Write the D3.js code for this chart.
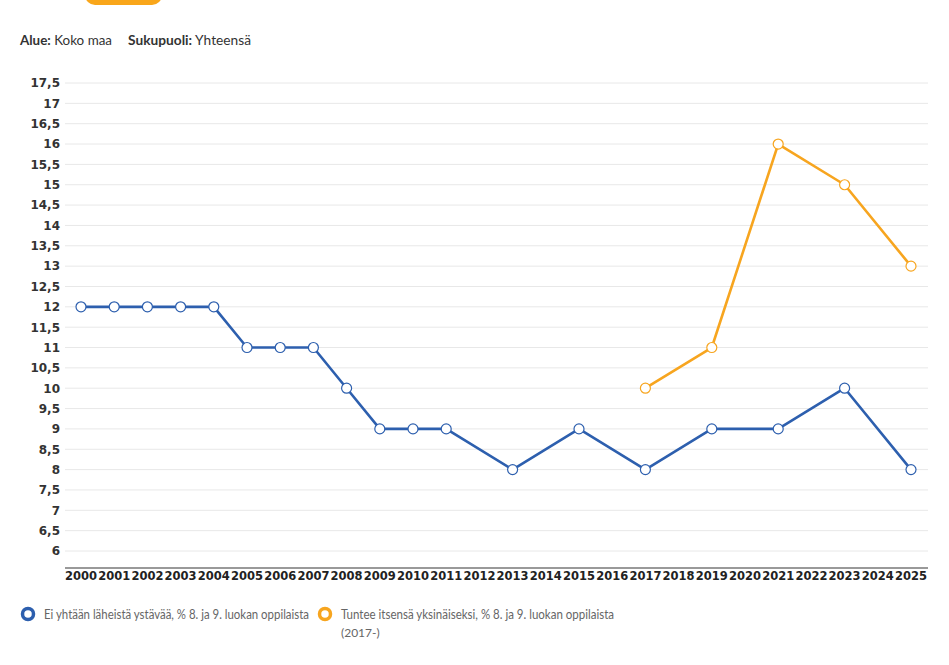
<!DOCTYPE html>
<html><head><meta charset="utf-8">
<script src="https://cdn.jsdelivr.net/npm/d3@7"></script>
<style>
html,body{margin:0;padding:0;background:#fff;}
svg{display:block;}
</style></head>
<body>
<svg id="c" width="949" height="665"></svg>
<script>
const years = d3.range(2000, 2026).map(String);
const yTicks = [6,6.5,7,7.5,8,8.5,9,9.5,10,10.5,11,11.5,12,12.5,13,13.5,14,14.5,15,15.5,16,16.5,17,17.5];
const blueYears = ["2000","2001","2002","2003","2004","2005","2006","2007","2008","2009","2010","2011","2013","2015","2017","2019","2021","2023","2025"];
const blueValues = [12,12,12,12,12,11,11,11,10,9,9,9,8,9,8,9,9,10,8];
const orangeYears = ["2017","2019","2021","2023","2025"];
const orangeValues = [10,11,16,15,13];
const seriesNames = ["Ei yhtään läheistä ystävää, % 8. ja 9. luokan oppilaista","Tuntee itsensä yksinäiseksi, % 8. ja 9. luokan oppilaista"];
const colors = ["#2d5fae","#f7a51f"];

const FONT = "Lato,'Noto Sans',sans-serif";
const svg = d3.select("#c");
const x = d3.scaleBand().domain(years).range([64.4, 927.6]);
const y = d3.scaleLinear().domain([6, 17.5]).range([551, 83]);
const axisY = 568;

// top orange button (partially visible)
svg.append("rect").attr("x",85).attr("y",-20).attr("width",77).attr("height",25).attr("rx",10).attr("fill","#f9a61a");

// header
const hdr = svg.append("text").attr("x",20).attr("y",45).attr("font-family",FONT).attr("font-size",13).attr("fill","#333")
  .attr("textLength",92).attr("lengthAdjust","spacingAndGlyphs");
hdr.append("tspan").attr("font-weight","bold").text("Alue:");
hdr.append("tspan").text(" Koko maa");
const hdr2 = svg.append("text").attr("x",128).attr("y",45).attr("font-family",FONT).attr("font-size",13).attr("fill","#333")
  .attr("textLength",123).attr("lengthAdjust","spacingAndGlyphs");
hdr2.append("tspan").attr("font-weight","bold").text("Sukupuoli:");
hdr2.append("tspan").text(" Yhteensä");

// grid
svg.append("g").selectAll("line").data(yTicks).join("line")
  .attr("x1",65).attr("x2",928).attr("y1",d=>y(d)).attr("y2",d=>y(d))
  .attr("stroke","#e8e8e8").attr("stroke-width",1);

// y axis labels
const yAxis = svg.append("g").attr("transform","translate(65,0)")
  .call(d3.axisLeft(y).tickValues(yTicks).tickSize(0).tickPadding(5).tickFormat(d=>String(d).replace(".",",")));
yAxis.select(".domain").remove();
yAxis.selectAll("text").attr("font-family","'DejaVu Sans',sans-serif").attr("font-weight","bold").attr("font-size",12).attr("fill","#333");

// x axis
const xAxis = svg.append("g").attr("transform",`translate(0,${axisY})`)
  .call(d3.axisBottom(x).tickSize(0).tickPadding(4));
xAxis.select(".domain").attr("stroke","#999").attr("stroke-width",2).attr("d","M65,0H928");
xAxis.selectAll("text").attr("font-family","'DejaVu Sans',sans-serif").attr("font-weight","bold").attr("font-size",11.5).attr("fill","#222");

const cx = d => x(d) + x.bandwidth()/2;
const line = d3.line().x(d=>cx(d[0])).y(d=>y(d[1]));

function drawSeries(ys, vs, col){
  const pts = ys.map((yr,i)=>[yr, vs[i]]);
  svg.append("path").datum(pts).attr("d",line).attr("fill","none").attr("stroke",col).attr("stroke-width",2.6).attr("stroke-linejoin","round");
  svg.append("g").selectAll("circle").data(pts).join("circle")
    .attr("cx",d=>cx(d[0])).attr("cy",d=>y(d[1])).attr("r",5)
    .attr("fill","#fff").attr("stroke",col).attr("stroke-width",1.2);
}
drawSeries(blueYears, blueValues, colors[0]);
drawSeries(orangeYears, orangeValues, colors[1]);

// legend
const lg = [{x:28, tx:44, w:265}, {x:325, tx:341, w:273}];
lg.forEach((p,i)=>{
  svg.append("circle").attr("cx",p.x).attr("cy",614).attr("r",5.5).attr("fill","#fff").attr("stroke",colors[i]).attr("stroke-width",3.5);
  svg.append("text").attr("x",p.tx).attr("y",619).attr("font-family",FONT).attr("font-size",12.5).attr("fill","#666")
    .attr("textLength",p.w).attr("lengthAdjust","spacingAndGlyphs").text(seriesNames[i]);
});
svg.append("text").attr("x",341).attr("y",637).attr("font-family",FONT).attr("font-size",12).attr("fill","#666").text("(2017-)");
</script>
</body></html>
